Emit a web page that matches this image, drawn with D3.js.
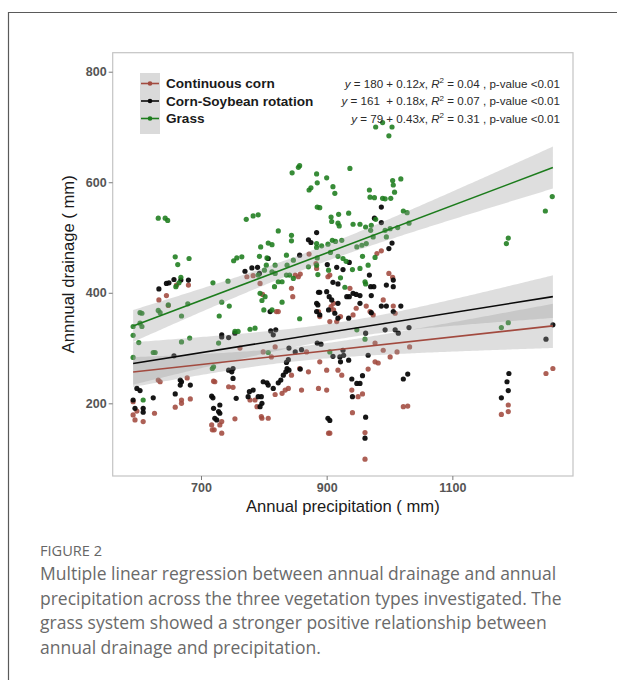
<!DOCTYPE html>
<html><head><meta charset="utf-8">
<script src="https://cdn.jsdelivr.net/npm/d3@7/dist/d3.min.js"></script>
<style>
html,body{margin:0;padding:0;background:#fff;}
svg{display:block;}
</style></head>
<body>
<svg id="chart" width="617" height="680"></svg>
<script>
// ---------------- DATA ----------------
const categories = ["Continuous corn", "Corn-Soybean rotation", "Grass"];
const colors = ["#a24a3f", "#0a0a0a", "#1c7c1c"];

const cornPoints = [
[633,387],[645,395],[648,377],[661,414],[680,414],
[773,429],[783,431],[794,417],[798,397],[820,366],
[844,408],[846,393],[855,429],[858,434],[872,470],[883,453],
[902,429],[905,432],[887,366],[889,357],[907,375],[911,369],[916,348],[922,357],[905,348],[911,381],
[592,179],[595,170],[608,167],[592,203],[598,186],[626,182],
[632,242],[635,239],
[659,193],[669,206],[669,200],[678,246],[683,208],
[720,240],[722,239],[721,152],[733,146],[730,161],[717,161],[718,152],[733,167],
[744,230],[751,229],[754,172],[762,300],
[786,206],[789,194],[797,173],[807,173],[778,206],[796,176],
[818,216],[829,218],[834,224],[839,227],[860,224],
[823,366],[871,257],[887,227],[889,275],[903,146],[905,146],
[918,260],[924,251],
[850,432],[884,444],[799,293],[818,302],[812,284],[868,293],[900,260],[857,263],[844,251],[900,224],
[987,476],[980,471],[999,435],[1005,428],[937,408],
[942,360],[947,372],[963,376],[990,387],[1006,376],[1009,363],[969,366],[974,360],
[977,309],[990,296],[1001,284],[1012,293],[1032,302],
[977,275],[982,273],[966,262],
[940,224],[950,212],[957,217],[941,183],
[1022,194],[1029,195],[961,147],[961,99],
[1189,197],[1189,185],[1178,180],
[1249,254],[1260,263]
];

const rotationPoints = [
[598,227],[603,223],[592,206],[595,191],[608,191],[608,184],[624,210],
[633,407],[645,417],[649,418],[657,424],[668,423],[680,423],[657,286],
[659,217],[667,242],[669,239],[667,233],[683,233],
[717,213],[719,210],[720,191],[722,173],[730,182],[730,197],[728,185],[725,170],
[733,324],[744,319],[733,320],[754,327],
[744,260],[751,263],[751,245],[749,257],[756,209],
[777,221],[783,224],[791,212],[797,200],[794,194],[775,212],[796,212],
[799,239],[805,237],[807,233],
[815,227],[823,237],[827,242],[831,251],[835,257],[837,263],[840,260],[836,274],
[858,262],[840,300],[860,297],[850,293],[839,279],
[811,331],[819,333],[815,324],
[885,309],[891,307],[884,366],[889,360],[884,381],[886,378],[903,369],
[902,173],[905,169],
[910,285],[922,275],[927,287],[935,278],
[770,439],[781,445],[790,446],[807,462],[793,435],[810,366],
[857,468],[871,496],[875,491],[884,509],[901,451],[916,446],
[887,401],[889,401],[900,402],[904,393],[908,387],[918,381],[913,363],[918,354],[932,393],[935,354],
[910,419],[918,416],[926,442],
[987,555],[976,535],[987,527],
[999,480],[1004,490],[936,455],[968,432],
[942,399],[947,397],[936,393],[953,395],[971,395],[970,411],[975,411],
[995,414],[1006,411],[1006,423],
[987,376],[995,376],[1018,376],[971,364],[953,381],
[1006,366],[962,327],[993,333],[1009,333],[1014,327],[1031,337],
[926,296],[921,284],[966,287],
[940,244],[948,236],[953,236],[957,250],[941,212],
[1022,244],[1029,253],[962,175],[961,137],
[1190,254],[1187,239],[1189,223],[1178,210],
[1249,316],[1260,342]
];

const grassPoints = [
[603,364],[606,363],[592,339],[606,339],[603,345],[592,323],[601,310],[592,283],[608,206],
[624,292],[627,292],[632,368],[635,364],[648,378],
[632,535],[643,535],[647,531],
[659,465],[663,451],[681,462],
[668,428],[660,411],[665,418],
[679,380],[669,358],[669,311],[682,318],
[719,418],[743,421],[729,358],[733,383],[745,376],[718,263],[720,266],[728,309],
[757,463],[765,465],[752,458],
[772,533],[783,539],[791,541],
[795,483],[793,466],[807,490],[813,487],[823,512],
[804,450],[801,441],[813,438],[818,435],[817,411],[829,420],[805,463],[818,450],
[836,468],[847,459],[836,432],[847,426],[823,420],[791,432],[794,399],[802,393],
[844,504],[844,494],[837,450],[841,432],
[797,386],[800,369],[813,369],[829,383],[857,353],
[754,330],[778,334],[786,336],[759,330],[807,292],[905,293],
[845,617],[855,627],[857,630],
[872,586],[875,590],[884,615],[885,599],
[900,608],[910,592],[913,580],
[885,555],[889,554],[907,537],[919,542],[918,526],[920,521],[908,529],
[909,495],[914,493],[884,482],[892,485],[902,488],[884,489],
[906,473],[885,463],[918,466],[884,450],[886,433],[871,447],[903,441],
[937,625],[935,544],[922,427],[929,410],
[999,684],[978,700],[989,708],[1004,700],
[1005,603],[1006,595],[1018,606],[1008,582],
[968,586],[969,573],[976,572],[989,571],[993,570],[1002,571],
[1022,548],[1028,545],
[942,524],[953,524],[962,519],[971,522],[978,533],
[970,513],[993,513],[1001,516],[1013,518],[1031,526],
[974,501],[995,501],[924,495],
[948,483],[956,486],[963,489],
[957,466],[977,464],[926,462],[931,457],
[941,442],[953,444],[966,450],
[961,420],[962,416],
[961,316],[948,333],
[1186,489],[1189,499],[1248,548],[1259,574],[1178,337],[1189,346]
];

// fitted lines (as drawn): intercept, slope
const intercepts = [182.6, 165, 86];
const slopes = [0.125, 0.181, 0.429];
// confidence band: [x mean, half-width at mean, spread]
const bandParams = [[849, 13, 0.092], [925, 15, 0.106], [870, 14.5, 0.090]];
const fitRange = [592, 1260];

const equations = [
  {a: "180", b: "0.12", r2: "0.04"},
  {a: "161 ", b: "0.18", r2: "0.07"},
  {a: "79", b: "0.43", r2: "0.31"}
];

const xTicks = [700, 900, 1100];
const yTicks = [200, 400, 600, 800];
const xDomain = [559.5, 1292];
const yDomain = [68.5, 834.4];

const captionTitle = "FIGURE 2";
const captionLines = [
  "Multiple linear regression between annual drainage and annual",
  "precipitation across the three vegetation types investigated. The",
  "grass system showed a stronger positive relationship between",
  "annual drainage and precipitation."
];

// ---------------- DRAW ----------------
const svg = d3.select("#chart");
const panel = {left: 112.7, right: 573, top: 52.7, bottom: 476};
const x = d3.scaleLinear().domain(xDomain).range([panel.left, panel.right]);
const y = d3.scaleLinear().domain(yDomain).range([panel.bottom, panel.top]);
const font = "'Liberation Sans', Arial, sans-serif";

// outer frame
svg.append("path").attr("d", "M8.5,680 L8.5,12.5 L617,12.5")
  .attr("fill", "none").attr("stroke", "#5a5a5a").attr("stroke-width", 1.2);

// clip
svg.append("clipPath").attr("id", "clip").append("rect")
  .attr("x", panel.left).attr("y", panel.top)
  .attr("width", panel.right - panel.left).attr("height", panel.bottom - panel.top);

const plot = svg.append("g").attr("clip-path", "url(#clip)");

// points
const seriesPoints = [cornPoints, rotationPoints, grassPoints];
seriesPoints.forEach((pts, i) => {
  plot.append("g").selectAll("circle").data(pts).join("circle")
    .attr("cx", d => x(d[0])).attr("cy", d => y(d[1])).attr("r", 2.6)
    .attr("fill", colors[i]).attr("fill-opacity", i === 1 ? 0.95 : 0.88);
});

// bands
const bandXs = d3.range(fitRange[0], fitRange[1] + 0.1, 4);
[0, 1, 2].forEach(i => {
  const [xm, a, b] = bandParams[i];
  const hw = v => Math.sqrt(a * a + b * b * (v - xm) * (v - xm));
  const area = d3.area()
    .x(v => x(v))
    .y0(v => y(intercepts[i] + slopes[i] * v - hw(v)))
    .y1(v => y(intercepts[i] + slopes[i] * v + hw(v)));
  plot.append("path").datum(bandXs).attr("d", area)
    .attr("fill", "#9a9a9a").attr("fill-opacity", 0.33);
});

// lines
[0, 1, 2].forEach(i => {
  const line = d3.line().x(v => x(v)).y(v => y(intercepts[i] + slopes[i] * v));
  plot.append("path").datum(fitRange).attr("d", line)
    .attr("fill", "none").attr("stroke", colors[i]).attr("stroke-width", 1.6);
});

// panel border
svg.append("rect").attr("x", panel.left).attr("y", panel.top)
  .attr("width", panel.right - panel.left).attr("height", panel.bottom - panel.top)
  .attr("fill", "none").attr("stroke", "#c4c4c4").attr("stroke-width", 1.2);

// axes
const xAxis = svg.append("g").attr("transform", `translate(0,${panel.bottom})`)
  .call(d3.axisBottom(x).tickValues(xTicks).tickFormat(d3.format("d")).tickSize(4).tickPadding(3));
const yAxis = svg.append("g").attr("transform", `translate(${panel.left},0)`)
  .call(d3.axisLeft(y).tickValues(yTicks).tickFormat(d3.format("d")).tickSize(4).tickPadding(2));
[xAxis, yAxis].forEach(g => {
  g.select(".domain").remove();
  g.selectAll(".tick line").attr("stroke", "#7a7a7a");
  g.selectAll(".tick text").attr("fill", "#555").attr("font-family", font)
    .attr("font-size", 12.5).attr("font-weight", "bold");
});

// axis titles
svg.append("text").attr("x", (panel.left + panel.right) / 2).attr("y", 512)
  .attr("text-anchor", "middle").attr("font-family", font).attr("font-size", 16.6)
  .attr("fill", "#1a1a1a").text("Annual precipitation ( mm)");
svg.append("text").attr("transform", `translate(74,${(panel.top + panel.bottom) / 2}) rotate(-90)`)
  .attr("text-anchor", "middle").attr("font-family", font).attr("font-size", 16.6)
  .attr("fill", "#1a1a1a").text("Annnual drainage ( mm)");

// legend
const legY = [83.5, 101, 118.5];
svg.append("rect").attr("x", 140).attr("y", 73).attr("width", 20).attr("height", 61)
  .attr("fill", "#dadada");
categories.forEach((c, i) => {
  svg.append("line").attr("x1", 141).attr("x2", 159).attr("y1", legY[i]).attr("y2", legY[i])
    .attr("stroke", colors[i]).attr("stroke-width", 1.6);
  svg.append("circle").attr("cx", 150).attr("cy", legY[i]).attr("r", 2.3).attr("fill", colors[i]);
  svg.append("text").attr("x", 166).attr("y", legY[i] + 4.8)
    .attr("font-family", font).attr("font-size", 13.6).attr("font-weight", "bold")
    .attr("fill", "#1a1a1a").text(c);
});

// equations
const eqY = [83.5, 101, 118.5];
equations.forEach((e, i) => {
  const t = svg.append("text").attr("x", 560).attr("y", eqY[i] + 4)
    .attr("text-anchor", "end").attr("font-family", font).attr("font-size", 11.6)
    .attr("fill", "#2a2a2a").attr("xml:space", "preserve");
  t.append("tspan").attr("font-style", "italic").text("y");
  t.append("tspan").text(` = ${e.a} + ${e.b}`);
  t.append("tspan").attr("font-style", "italic").text("x");
  t.append("tspan").text(", ");
  t.append("tspan").attr("font-style", "italic").text("R");
  t.append("tspan").attr("dy", -4.5).attr("font-size", 8).text("2");
  t.append("tspan").attr("dy", 4.5).text(` = ${e.r2} , p-value <0.01`);
});

// caption
const capFont = "'Open Sans', Lato, sans-serif";
svg.append("text").attr("x", 40).attr("y", 556).attr("font-family", capFont)
  .attr("font-size", 14.6).attr("fill", "#666").text(captionTitle);
captionLines.forEach((l, i) => {
  svg.append("text").attr("x", 40).attr("y", 580 + i * 24.5).attr("font-family", capFont)
    .attr("font-size", 17.5).attr("fill", "#6a6a6a").text(l);
});
</script>
</body></html>
